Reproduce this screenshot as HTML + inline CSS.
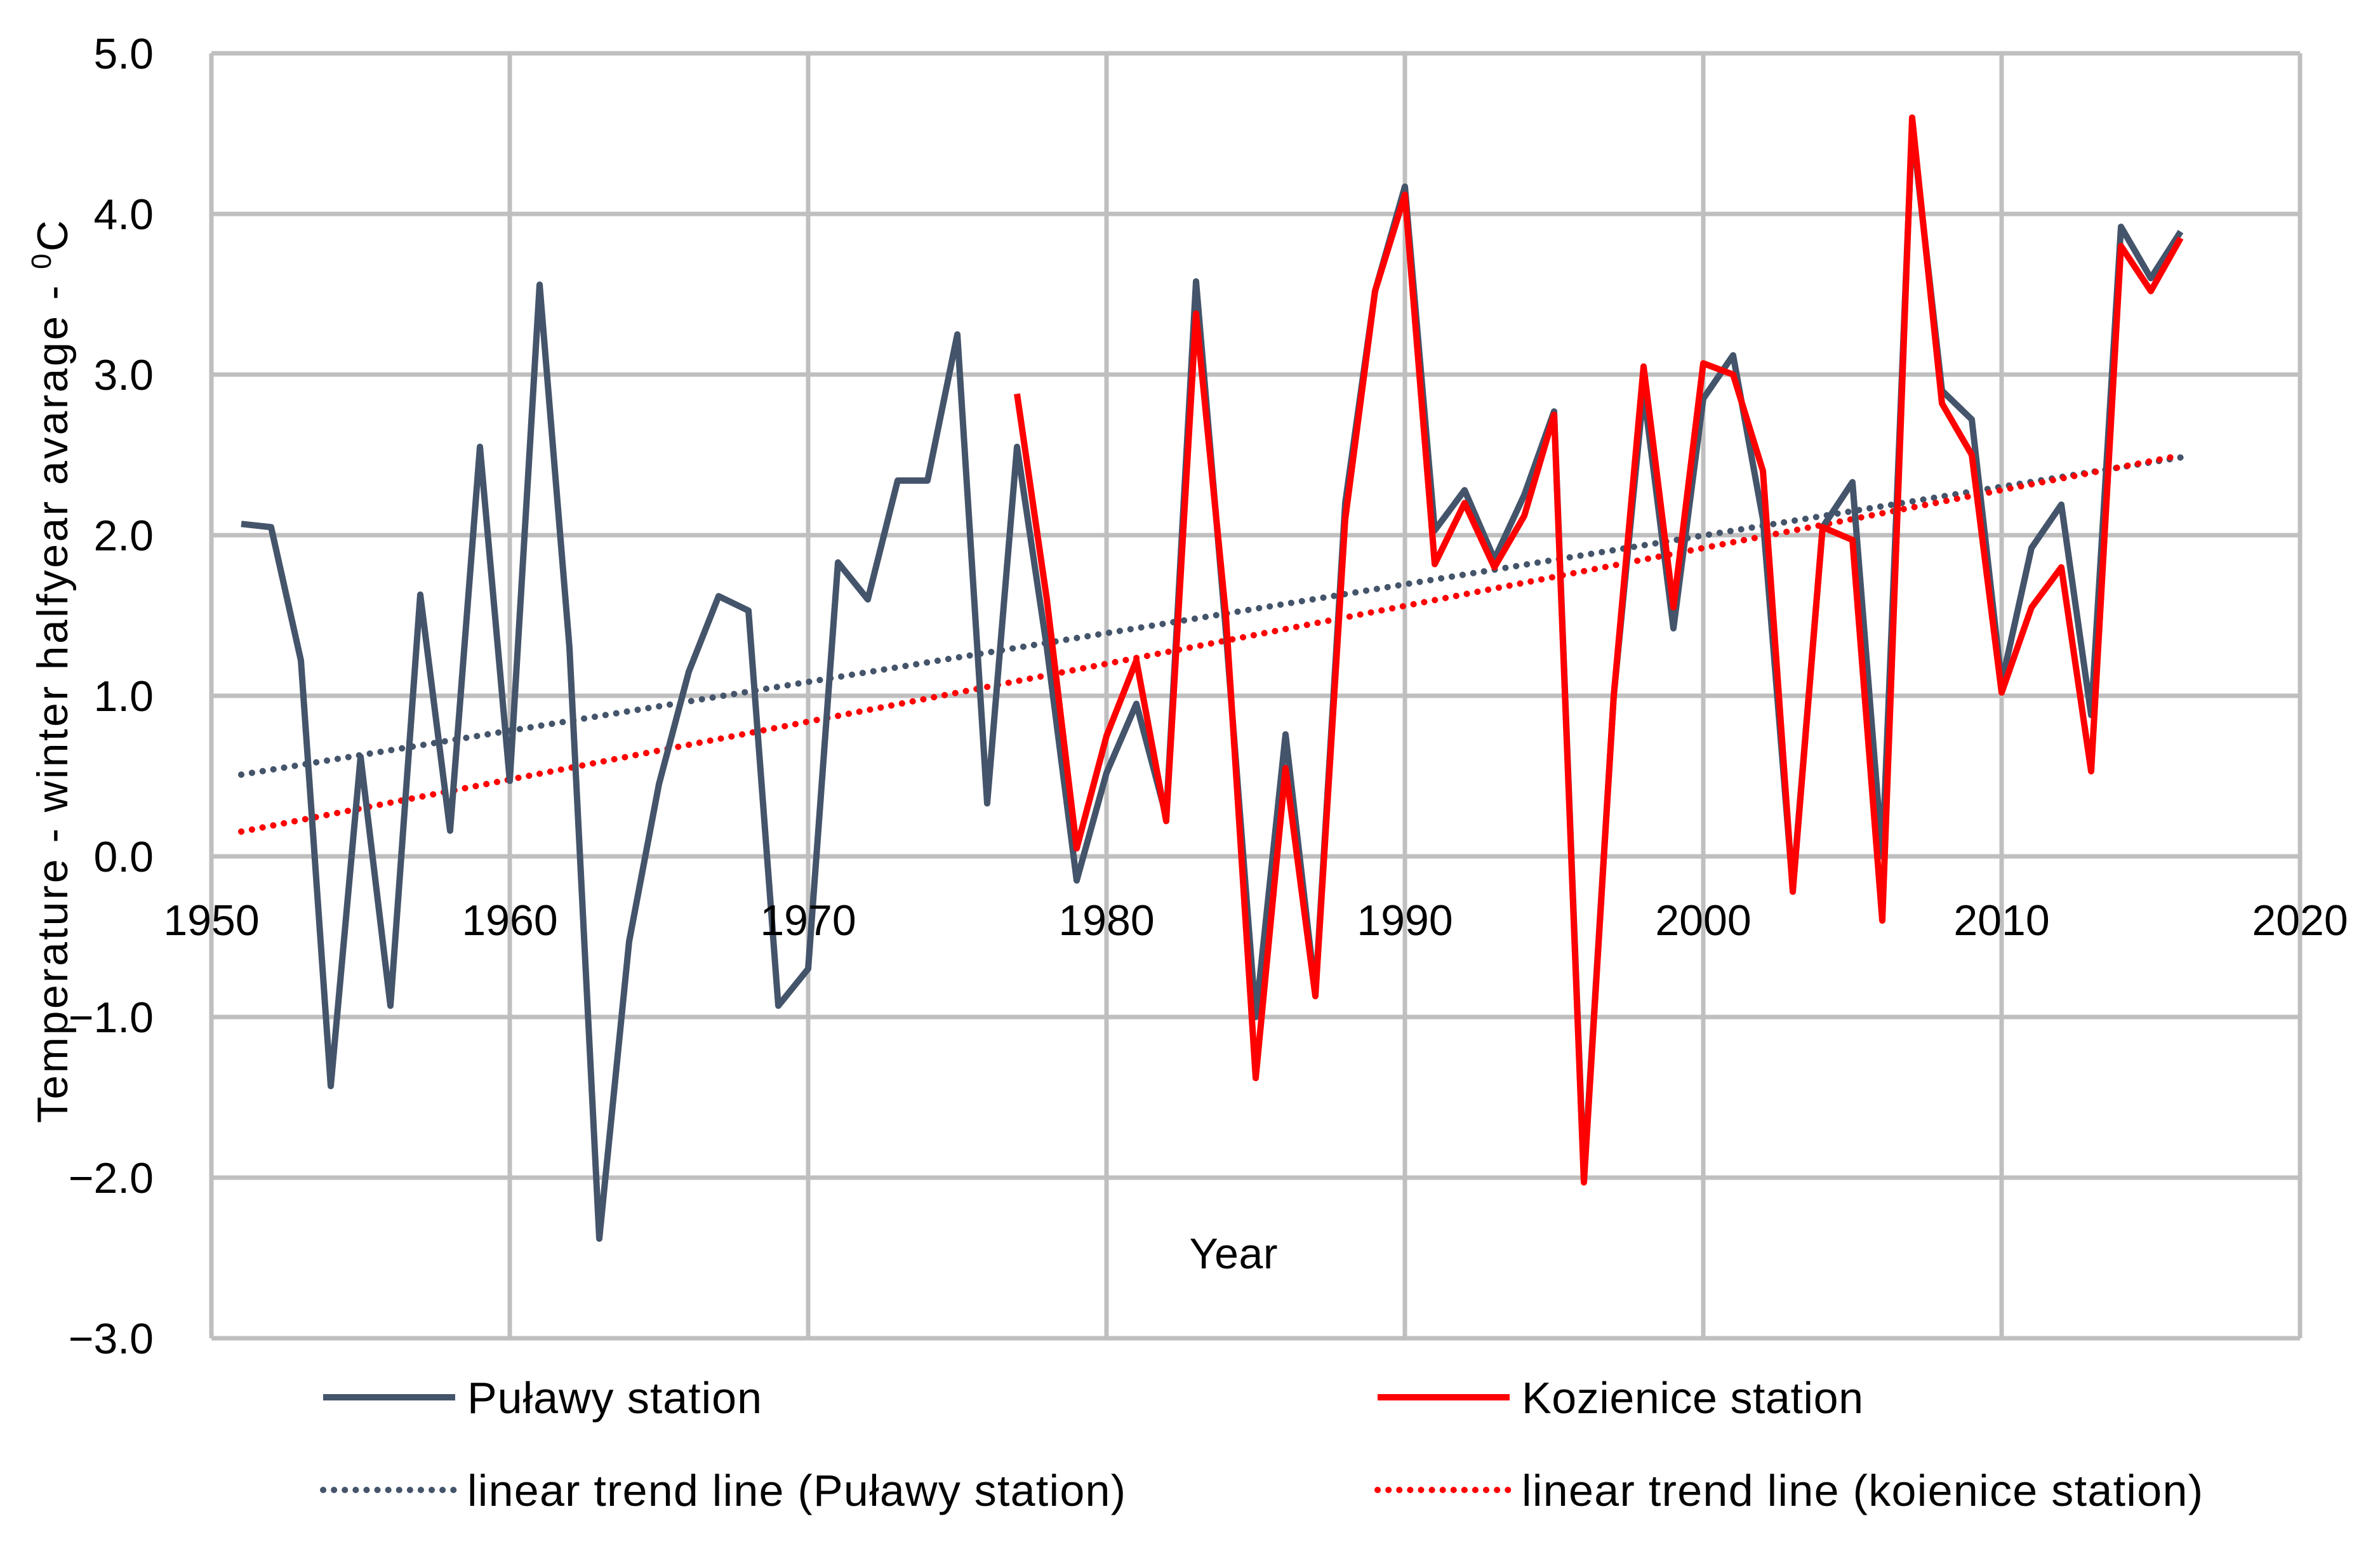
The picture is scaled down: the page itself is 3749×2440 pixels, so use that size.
<!DOCTYPE html>
<html><head><meta charset="utf-8"><style>
html,body{margin:0;padding:0;background:#fff}
svg{display:block;font-family:"Liberation Sans",sans-serif}
</style></head><body>
<svg id="chart" width="3749" height="2440" viewBox="0 0 3749 2440" xmlns="http://www.w3.org/2000/svg">
<rect width="3749" height="2440" fill="#fff"/>
<g id="grid"></g><g id="series"></g><g id="labels"></g>
<text x="1943" y="1998" font-size="68" text-anchor="middle" textLength="139" fill="#000">Year</text>
<text transform="translate(106,1058) rotate(-90)" font-size="68" text-anchor="middle" textLength="1422" fill="#000">Temperature - winter halfyear avarage - <tspan font-size="44" dy="-26">0</tspan><tspan dy="26">C</tspan></text>
<g>
<line x1="509" y1="2201" x2="717" y2="2201" stroke="#44546a" stroke-width="10"/>
<text x="736" y="2226" font-size="70" textLength="464">Puławy station</text>
<line x1="2170" y1="2201" x2="2378" y2="2201" stroke="#ff0000" stroke-width="10"/>
<text x="2397" y="2226" font-size="70" textLength="538">Kozienice station</text>
<line x1="509" y1="2347" x2="717" y2="2347" stroke="#44546a" stroke-width="10" stroke-dasharray="0.1 17" stroke-linecap="round"/>
<text x="736" y="2372" font-size="70" textLength="1037">linear trend line (Puławy station)</text>
<line x1="2170" y1="2347" x2="2378" y2="2347" stroke="#ff0000" stroke-width="10" stroke-dasharray="0.1 17" stroke-linecap="round"/>
<text x="2397" y="2372" font-size="70" textLength="1073">linear trend line (koienice station)</text>
</g>
</svg>
<script>
const xTicks=[1950,1960,1970,1980,1990,2000,2010,2020];
const yTicks=[-3,-2,-1,0,1,2,3,4,5];
const pulawyStart=1951;
const pulawyValues=[2.07,2.05,1.22,-1.43,0.62,-0.93,1.63,0.16,2.55,0.47,3.56,1.3,-2.38,-0.53,0.45,1.15,1.62,1.53,-0.93,-0.7,1.83,1.6,2.34,2.34,3.25,0.33,2.55,1.3,-0.15,0.52,0.95,0.25,3.58,1.4,-1.0,0.76,-0.85,2.2,3.52,4.17,2.03,2.28,1.85,2.25,2.77,-2.0,1.0,2.9,1.42,2.85,3.12,2.1,-0.2,2.05,2.33,0.0,4.55,2.9,2.72,1.08,1.92,2.19,0.88,3.92,3.6,3.89];
const kozStart=1977;
const kozValues=[2.88,1.6,0.05,0.75,1.22,0.22,3.38,1.5,-1.38,0.55,-0.87,2.1,3.52,4.12,1.82,2.2,1.8,2.12,2.75,-2.03,1.0,3.05,1.55,3.07,3.0,2.4,-0.22,2.05,1.97,-0.4,4.6,2.82,2.5,1.02,1.55,1.8,0.53,3.8,3.52,3.85];
const NS="http://www.w3.org/2000/svg";
const L=333,R=3623,T=84,B=2108;
const X=v=>L+(v-1950)/70*(R-L);
const Y=v=>T+(5-v)/8*(B-T);
function mk(tag,attrs,parent){const e=document.createElementNS(NS,tag);for(const k in attrs)e.setAttribute(k,attrs[k]);parent.appendChild(e);return e;}
const grid=document.getElementById('grid'),series=document.getElementById('series'),labels=document.getElementById('labels');
yTicks.forEach(t=>{const l=mk('line',{x1:L,x2:R,y1:Y(t),y2:Y(t),stroke:'#bfbfbf','stroke-width':7},grid);


const tx=mk('text',{x:242,y:Y(t)+24,'font-size':68,'text-anchor':'end'},labels);


tx.textContent=(t<0?'\u2212':'')+Math.abs(t).toFixed(1);});
xTicks.forEach(t=>{const l=mk('line',{x1:X(t),x2:X(t),y1:T,y2:B,stroke:'#bfbfbf','stroke-width':7},grid);


const tx=mk('text',{x:X(t),y:Y(0)+124,'font-size':68,'text-anchor':'middle'},labels);


tx.textContent=t;});
function trend(start,vals){const n=vals.length;let sx=0,sy=0,sxx=0,sxy=0;vals.forEach((v,i)=>{const x=start+i;sx+=x;sy+=v;sxx+=x*x;sxy+=x*v;});const b=(n*sxy-sx*sy)/(n*sxx-sx*sx);const a=(sy-b*sx)/n;return x=>a+b*x;}
const tp=trend(pulawyStart,pulawyValues),tk=trend(kozStart,kozValues);
const trP=mk('line',{x1:X(1951),y1:Y(tp(1951)),x2:X(2016),y2:Y(tp(2016)),stroke:'#44546a','stroke-width':10,'stroke-dasharray':'0.1 17','stroke-linecap':'round'},series);


const trK=mk('line',{x1:X(1951),y1:Y(tk(1951)),x2:X(2016),y2:Y(tk(2016)),stroke:'#ff0000','stroke-width':10,'stroke-dasharray':'0.1 17','stroke-linecap':'round'},series);


const pp=mk('polyline',{points:pulawyValues.map((v,i)=>X(pulawyStart+i)+','+Y(v)).join(' '),fill:'none',stroke:'#44546a','stroke-width':10,'stroke-linejoin':'round'},series);


const pk=mk('polyline',{points:kozValues.map((v,i)=>X(kozStart+i)+','+Y(v)).join(' '),fill:'none',stroke:'#ff0000','stroke-width':10,'stroke-linejoin':'round'},series);


</script>
</body></html>
